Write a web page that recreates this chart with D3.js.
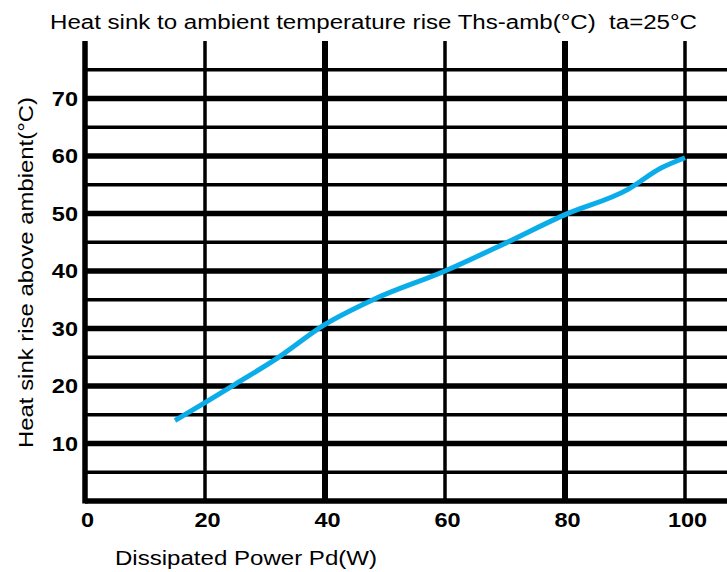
<!DOCTYPE html>
<html>
<head>
<meta charset="utf-8">
<script src="https://cdn.jsdelivr.net/npm/d3@7"></script>
<style>
  body { margin: 0; background: #fff; }
  svg text { font-family: "Liberation Sans", Arial, sans-serif; }
</style>
</head>
<body>
<svg id="chart" width="727" height="572"></svg>
<script>
// data
const power = [15, 20, 25, 32, 40, 48, 60, 70, 80, 90.5, 96, 100];
const rise = [14, 17.1, 20.3, 24.8, 30.7, 35, 40, 44.8, 49.8, 54.2, 57.9, 59.7];

const xTicks = [0, 20, 40, 60, 80, 100];
const yTicks = [10, 20, 30, 40, 50, 60, 70];
const yMinor = [5, 15, 25, 35, 45, 55, 65, 75];

const titleText = "Heat sink to ambient temperature rise Ths-amb(°C)  ta=25°C";
const xTitle = "Dissipated Power Pd(W)";
const yTitle = "Heat sink rise above ambient(°C)";

const svg = d3.select("#chart");
const margin = {left: 85, top: 41, right: 0, bottom: 71};

const x = d3.scaleLinear().domain([0, 107]).range([margin.left, 727]);
const y = d3.scaleLinear().domain([0, 80]).range([501, margin.top]);

// the original lettering is a bit wider than Liberation Sans
function widen(sel, factor) {
    sel.each(function() {
        const w = this.getComputedTextLength();
        d3.select(this)
            .attr("textLength", w * factor)
            .attr("lengthAdjust", "spacingAndGlyphs");
    });
}

// Horizontal grid: minor first, then major
svg.append("g")
    .selectAll("line")
    .data(yMinor)
    .enter().append("line")
    .attr("x1", x(0)).attr("x2", x(107))
    .attr("y1", d => y(d)).attr("y2", d => y(d))
    .attr("stroke", "#000").attr("stroke-width", 3.3);

svg.append("g")
    .selectAll("line")
    .data(yTicks)
    .enter().append("line")
    .attr("x1", x(0)).attr("x2", x(107))
    .attr("y1", d => y(d)).attr("y2", d => y(d))
    .attr("stroke", "#000").attr("stroke-width", 5.5);

// Vertical grid, every other one heavier
svg.append("g")
    .selectAll("line")
    .data(xTicks.slice(1))
    .enter().append("line")
    .attr("x1", d => x(d)).attr("x2", d => x(d))
    .attr("y1", y(80)).attr("y2", y(0))
    .attr("stroke", "#000")
    .attr("stroke-width", d => (d % 40 == 0) ? 6 : 3.5);

// Axes frame lines
svg.append("line")
    .attr("x1", x(0)).attr("x2", x(0))
    .attr("y1", y(80)).attr("y2", y(0) + 2.5)
    .attr("stroke", "#000").attr("stroke-width", 5.5);
svg.append("line")
    .attr("x1", x(0)).attr("x2", x(107))
    .attr("y1", y(0)).attr("y2", y(0))
    .attr("stroke", "#000").attr("stroke-width", 5.5);

// Tick labels via d3 axes
const xAxis = svg.append("g")
    .attr("transform", "translate(2," + y(0) + ")")
    .call(d3.axisBottom(x).tickValues(xTicks).tickSize(0).tickPadding(11));
const yAxis = svg.append("g")
    .attr("transform", "translate(" + (x(0) - 7) + ",0)")
    .call(d3.axisLeft(y).tickValues(yTicks).tickSize(0).tickPadding(0));

[xAxis, yAxis].forEach(a => {
    a.select(".domain").remove();
    a.selectAll("text")
        .attr("font-family", "Liberation Sans, Arial, sans-serif")
        .attr("font-size", 21)
        .attr("font-weight", "bold")
        .attr("fill", "#000")
        .call(widen, 1.12);
});

// Curve
const line = d3.line()
    .x((d, i) => x(power[i]))
    .y((d, i) => y(rise[i]))
    .curve(d3.curveMonotoneX);

svg.append("path")
    .datum(power)
    .attr("d", line)
    .attr("fill", "none")
    .attr("stroke", "#0aade9")
    .attr("stroke-width", 5);

// Titles
svg.append("text")
    .attr("x", 50).attr("y", 29)
    .attr("font-size", 20)
    .style("white-space", "pre")
    .text(titleText)
    .attr("textLength", 647)
    .attr("lengthAdjust", "spacingAndGlyphs");

svg.append("text")
    .attr("x", 115).attr("y", 565)
    .attr("font-size", 20.5)
    .text(xTitle)
    .attr("textLength", 262)
    .attr("lengthAdjust", "spacingAndGlyphs");

svg.append("text")
    .attr("transform", "translate(33,272.5) rotate(-90)")
    .attr("text-anchor", "middle")
    .attr("font-size", 20.5)
    .text(yTitle)
    .attr("textLength", 351)
    .attr("lengthAdjust", "spacingAndGlyphs");
</script>
</body>
</html>
